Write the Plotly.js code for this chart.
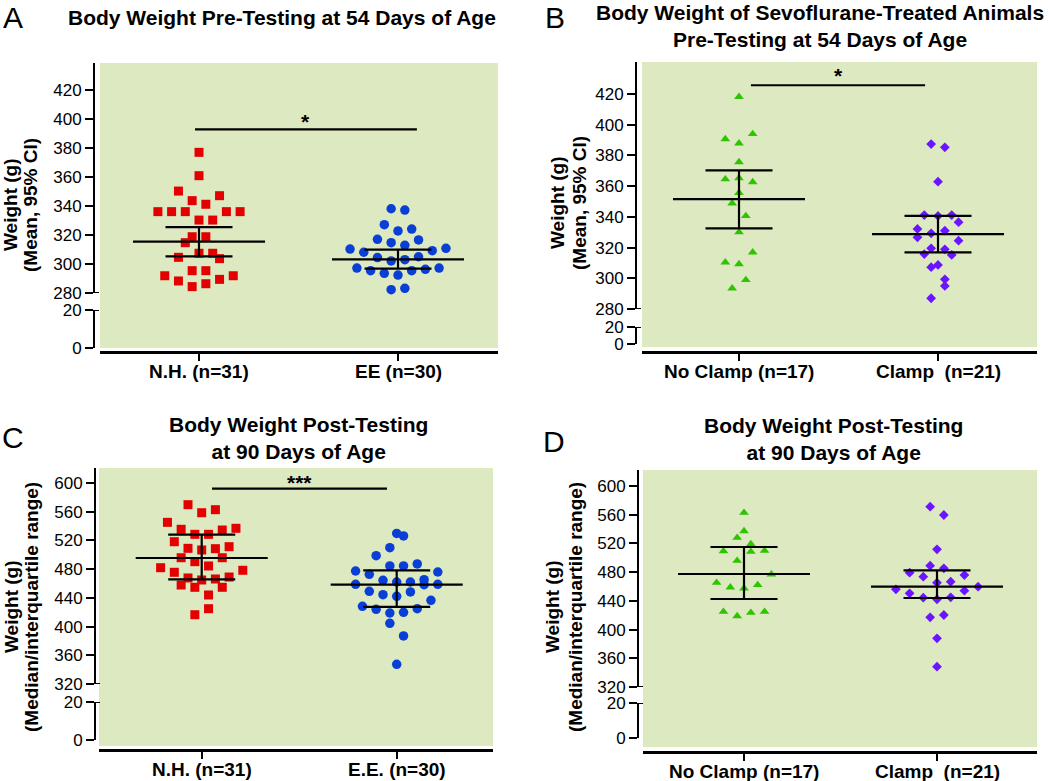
<!DOCTYPE html>
<html>
<head>
<meta charset="utf-8">
<script src="https://cdn.plot.ly/plotly-3.0.1.min.js"></script>
<style>html,body{margin:0;padding:0;background:#fff;}#chart{width:1050px;height:781px;}</style>
</head>
<body>
<div id="chart"></div>
<script>
// ---------------- DATA ----------------
// Panel A: body weight pre-testing at 54 days (mean, 95% CI)
const catsA = ['N.H. (n=31)', 'EE (n=30)'];
const nhA_weight = [377.0, 360.9, 350.3, 347.1, 343.7, 341.2, 336.1, 336.1, 336.1, 336.1, 336.1, 330.3, 330.3, 318.8, 318.8, 314.7, 307.4, 307.4, 304.6, 303.7, 295.4, 295.4, 291.9, 291.9, 288.3, 289.4, 284.4, 286.4];
const nhA_column = [0, 0, -3, 3, -1, 1, -6, -4, -2, 4, 6, 0, 2, -1, 1, -2, 0, 2, -3, 3, -1, 1, -5, 5, -3, 3, -1, 1];
const eeA_weight = [338.1, 337.2, 327.1, 322.8, 324.1, 317.0, 314.7, 316.6, 312.9, 310.3, 308.1, 309.2, 310.8, 304.4, 302.1, 303.0, 305.0, 297.2, 295.4, 293.6, 292.4, 295.4, 296.3, 297.2, 282.3, 283.2];
const eeA_column = [-1, 1, -2, 0, 2, -3, -1, 3, 1, -7, -5, 5, 7, -3, -1, 1, 3, -6, -4, -2, 0, 2, 4, 6, -1, 1];
const centerA = [315.4, 303.2];
const lowA = [305.3, 296.8];
const highA = [325.5, 309.9];
const sigA = {from: -0.02, to: 1.095, y: 392.9, label: '*'};

// Panel B: sevoflurane-treated animals pre-testing (mean, 95% CI)
const catsB = ['No Clamp (n=17)', 'Clamp  (n=21)'];
const ncB_weight = [418.2, 390.7, 394.0, 387.9, 375.7, 364.5, 365.3, 362.7, 355.7, 348.8, 340.6, 330.0, 316.9, 310.4, 309.3, 298.9, 293.5];
const ncB_column = [0, -2, 2, 0, 0, -2, 0, 2, 0, -1, 1, 0, 2, -2, 0, 1, -1];
const clB_weight = [387.4, 385.3, 362.9, 341.2, 340.6, 341.2, 332.1, 336.5, 329.3, 331.0, 326.7, 324.5, 319.5, 318.9, 315.8, 315.2, 307.2, 308.7, 299.3, 295.0, 287.0];
const clB_column = [-1, 1, 0, -2, 0, 2, -3, 3, -1, 1, -3, 3, -1, 1, -2, 2, -1, 0, 1, 1, -1];
const centerB = [351.6, 328.8];
const lowB = [332.5, 316.9];
const highB = [370.3, 340.6];
const sigB = {from: 0.06, to: 0.935, y: 425.7, label: '*'};

// Panel C: body weight post-testing at 90 days (median, IQR)
const catsC = ['N.H. (n=31)', 'E.E. (n=30)'];
const nhC_weight = [569.8, 558.6, 562.8, 545.2, 535.5, 534.5, 536.9, 528.5, 528.5, 518.2, 509.0, 506.7, 508.5, 511.3, 495.9, 495.9, 490.4, 484.4, 482.0, 475.6, 478.4, 467.7, 464.9, 466.3, 469.0, 457.9, 454.7, 454.7, 444.0, 424.9, 416.5];
const nhC_column = [-2, 0, 2, -5, -3, 3, 5, -1, 1, -4, -2, 0, 2, 4, -3, 3, -1, 1, -6, -4, 6, -2, 0, 2, 4, -3, -1, 3, 1, 1, -1];
const eeC_weight = [529.8, 526.2, 509.9, 498.7, 484.4, 484.4, 487.2, 477.4, 472.8, 476.0, 464.4, 462.1, 462.1, 465.3, 458.9, 458.3, 458.9, 449.1, 444.4, 448.2, 442.2, 436.6, 428.2, 424.1, 418.9, 419.9, 424.9, 404.6, 386.9, 347.4];
const eeC_column = [0, 1, -1, -3, -1, 1, 3, -6, -4, 6, -2, 0, 2, 4, -6, 4, 6, -4, -2, 2, 0, 5, -5, -3, -1, 1, 3, -1, 1, 0];
const centerC = [495.5, 458.3];
const lowC = [465.8, 427.3];
const highC = [528.0, 478.4];
const sigC = {from: 0.053, to: 0.95, y: 592.1, label: '***'};

// Panel D: sevoflurane-treated animals post-testing (median, IQR)
const catsD = ['No Clamp (n=17)', 'Clamp  (n=21)'];
const ncD_weight = [562.8, 537.3, 528.0, 519.2, 509.4, 508.5, 509.9, 495.9, 477.0, 465.3, 458.9, 457.5, 462.1, 424.9, 418.9, 423.5, 424.9];
const ncD_column = [0, 0, -1, 1, -3, 1, 3, -1, 4, -4, -2, 0, 2, -3, -1, 1, 3];
const clD_weight = [571.2, 559.6, 511.8, 489.0, 485.3, 479.2, 473.6, 476.0, 465.3, 466.7, 456.1, 459.7, 450.5, 454.2, 444.4, 442.2, 444.9, 417.1, 420.3, 387.8, 348.3];
const clD_column = [-1, 1, 0, -1, 1, -4, -2, 4, 0, 2, -6, 6, -4, 4, -2, 0, 2, -1, 1, 0, 0];
const centerD = [477.4, 459.7];
const lowD = [442.6, 444.0];
const highD = [515.0, 482.5];

const ticksUpper54 = [280, 300, 320, 340, 360, 380, 400, 420];
const ticksUpper90 = [320, 360, 400, 440, 480, 520, 560, 600];
const ticksLower = [0, 20];

const titleA = 'Body Weight Pre-Testing at 54 Days of Age';
const titleB = 'Body Weight of Sevoflurane-Treated Animals<br>Pre-Testing at 54 Days of Age';
const titleC = 'Body Weight Post-Testing<br>at 90 Days of Age';
const titleD = 'Body Weight Post-Testing<br>at 90 Days of Age';
const yTitle1 = 'Weight (g)';
const yTitle2AB = '(Mean, 95% CI)';
const yTitle2CD = '(Median/interquartile range)';

// ---------------- LAYOUT / STYLE ----------------
const W = 1050, H = 781;
const FONT = 'Liberation Sans, Arial, Helvetica, sans-serif';
const GREEN_BG = '#dde9c0';
const STY = {
  red:    {symbol: 'square', size: 9, color: '#e30000'},
  blue:   {symbol: 'circle', size: 9.5, color: '#0a3fd6'},
  green:  {symbol: 'triangle-up', size: 8.5, color: '#2ec400'},
  purple: {symbol: 'diamond', size: 7.5, color: '#6a14ff'}
};
const fx = p => p / W;
const fy = p => 1 - p / H;

const panels = [
  {letter: 'A', title: titleA, cats: catsA,
   groups: [[nhA_weight, nhA_column, STY.red], [eeA_weight, eeA_column, STY.blue]],
   center: centerA, low: lowA, high: highA, sig: sigA, starShift: 8,
   ticksUp: ticksUpper54, ytitle2: yTitle2AB,
   g: [100, 498, 63, 348], axisX: 94, xAxisY: 352, catPx: [199, 398], catLabelY: 371,
   up: {v0: 280, p0: 293, v1: 420, p1: 90}, low0: 348, low20: 310,
   letterPos: [13, 17], titlePos: [282, 18], yt: [11, 31, 205]},
  {letter: 'B', title: titleB, cats: catsB,
   groups: [[ncB_weight, ncB_column, STY.green], [clB_weight, clB_column, STY.purple]],
   center: centerB, low: lowB, high: highB, sig: sigB, starShift: 10,
   ticksUp: ticksUpper54, ytitle2: yTitle2AB,
   g: [642, 1037, 62, 347], axisX: 636, xAxisY: 352, catPx: [739, 938], catLabelY: 371,
   up: {v0: 280, p0: 309, v1: 420, p1: 94}, low0: 344, low20: 327,
   letterPos: [555, 18], titlePos: [820, 26], yt: [557, 579, 203]},
  {letter: 'C', title: titleC, cats: catsC,
   groups: [[nhC_weight, nhC_column, STY.red], [eeC_weight, eeC_column, STY.blue]],
   center: centerC, low: lowC, high: highC, sig: sigC, starShift: 6,
   ticksUp: ticksUpper90, ytitle2: yTitle2CD,
   g: [99, 493, 468, 746], axisX: 95, xAxisY: 750, catPx: [201.7, 396.7], catLabelY: 769,
   up: {v0: 320, p0: 684, v1: 600, p1: 483}, low0: 740, low20: 702,
   letterPos: [13, 437], titlePos: [298, 438], yt: [11, 31, 607]},
  {letter: 'D', title: titleD, cats: catsD,
   groups: [[ncD_weight, ncD_column, STY.green], [clD_weight, clD_column, STY.purple]],
   center: centerD, low: lowD, high: highD, sig: null, starShift: 0,
   ticksUp: ticksUpper90, ytitle2: yTitle2CD,
   g: [643, 1037, 470, 747], axisX: 638, xAxisY: 752, catPx: [744, 937], catLabelY: 771,
   up: {v0: 320, p0: 687, v1: 600, p1: 486}, low0: 738, low20: 703,
   letterPos: [554, 441], titlePos: [833, 439], yt: [552, 575, 607]}
];

const data = [];
const layout = {
  width: W, height: H,
  margin: {l: 0, r: 0, t: 0, b: 0},
  paper_bgcolor: '#ffffff',
  plot_bgcolor: 'rgba(0,0,0,0)',
  showlegend: false,
  font: {family: FONT, color: '#000'},
  shapes: [], annotations: []
};

panels.forEach((P, i) => {
  const xn = i + 1, yu = 2 * i + 1, yl = 2 * i + 2;
  const xk = 'x' + (xn === 1 ? '' : xn), yuk = 'y' + (yu === 1 ? '' : yu), ylk = 'y' + yl;
  const unit = P.catPx[1] - P.catPx[0];
  const xr = [(P.g[0] - P.catPx[0]) / unit, (P.g[1] - P.catPx[0]) / unit];
  const vpp = (P.up.v1 - P.up.v0) / (P.up.p0 - P.up.p1);
  const topVal = P.up.v0 + (P.up.p0 - P.g[2]) * vpp;
  const slot = 6.85 / unit;
  const meanHalf = 66 / unit, capHalf = 33.5 / unit;

  // background
  layout.shapes.push({type: 'rect', xref: 'paper', yref: 'paper', layer: 'below',
    x0: fx(P.g[0]), x1: fx(P.g[1]), y0: fy(P.g[3]), y1: fy(P.g[2]),
    fillcolor: GREEN_BG, line: {width: 0}});

  layout['xaxis' + (xn === 1 ? '' : xn)] = {
    domain: [fx(P.g[0]), fx(P.g[1])], range: xr, anchor: 'free', position: fy(P.xAxisY),
    showline: true, linecolor: '#000', linewidth: 2.5, showgrid: false, zeroline: false,
    ticks: 'outside', ticklen: 7, tickwidth: 2, tickcolor: '#000',
    tickvals: [0, 1], showticklabels: false, fixedrange: true
  };
  P.cats.forEach((c, k) => {
    layout.annotations.push({xref: xk, yref: 'paper', x: k, y: fy(P.catLabelY),
      text: '<b>' + c + '</b>', showarrow: false, xanchor: 'center', yanchor: 'middle',
      font: {family: FONT, size: 19, color: '#000'}});
  });
  const yCommon = {
    anchor: 'free', position: fx(P.axisX), showline: true, linecolor: '#000', linewidth: 2,
    showgrid: false, zeroline: false, ticks: 'outside', ticklen: 8, tickwidth: 2, tickcolor: '#000',
    tickfont: {family: FONT, size: 17, color: '#000'}, fixedrange: true
  };
  layout['yaxis' + (yu === 1 ? '' : yu)] = Object.assign({}, yCommon, {
    domain: [fy(P.up.p0), fy(P.g[2])], range: [P.up.v0, topVal], tickvals: P.ticksUp
  });
  layout['yaxis' + yl] = Object.assign({}, yCommon, {
    domain: [fy(P.low0), fy(P.low20)], range: [0, 20], tickvals: ticksLower
  });

  // break ticks extending inward
  layout.shapes.push({type: 'line', xref: 'paper', yref: yuk, x0: fx(P.axisX - 8), x1: fx(P.axisX + 5),
    y0: P.up.v0, y1: P.up.v0, line: {color: '#000', width: 2}});
  layout.shapes.push({type: 'line', xref: 'paper', yref: ylk, x0: fx(P.axisX - 8), x1: fx(P.axisX + 5),
    y0: 20, y1: 20, line: {color: '#000', width: 2}});

  // points
  P.groups.forEach((G, k) => {
    const [vals, cols, st] = G;
    data.push({type: 'scatter', mode: 'markers', xaxis: xk, yaxis: yuk, hoverinfo: 'skip',
      x: cols.map(c => k + c * slot), y: vals,
      marker: {symbol: st.symbol, size: st.size, color: st.color, line: {width: 0}},
      cliponaxis: false});
  });
  data.push({type: 'scatter', mode: 'markers', xaxis: xk, yaxis: ylk, x: [null], y: [null], hoverinfo: 'skip'});

  // mean / median lines and error bars
  const ln = {color: '#000', width: 2.2};
  [0, 1].forEach(k => {
    layout.shapes.push({type: 'line', xref: xk, yref: yuk, x0: k - meanHalf, x1: k + meanHalf, y0: P.center[k], y1: P.center[k], line: ln});
    layout.shapes.push({type: 'line', xref: xk, yref: yuk, x0: k - capHalf, x1: k + capHalf, y0: P.high[k], y1: P.high[k], line: ln});
    layout.shapes.push({type: 'line', xref: xk, yref: yuk, x0: k - capHalf, x1: k + capHalf, y0: P.low[k], y1: P.low[k], line: ln});
    layout.shapes.push({type: 'line', xref: xk, yref: yuk, x0: k, x1: k, y0: P.low[k], y1: P.high[k], line: ln});
  });

  // significance
  if (P.sig) {
    layout.shapes.push({type: 'line', xref: xk, yref: yuk, x0: P.sig.from, x1: P.sig.to, y0: P.sig.y, y1: P.sig.y, line: ln});
    layout.annotations.push({xref: xk, yref: yuk, x: (P.sig.from + P.sig.to) / 2, y: P.sig.y,
      text: '<b>' + P.sig.label + '</b>', showarrow: false, xanchor: 'center', yanchor: 'middle', yshift: P.starShift,
      font: {family: FONT, size: 21, color: '#000'}});
  }

  // titles / letters / y titles
  layout.annotations.push({xref: 'paper', yref: 'paper', x: fx(P.titlePos[0]), y: fy(P.titlePos[1]),
    text: '<b>' + P.title + '</b>', showarrow: false, xanchor: 'center', yanchor: 'middle',
    font: {family: FONT, size: 21, color: '#000'}});
  layout.annotations.push({xref: 'paper', yref: 'paper', x: fx(P.letterPos[0]), y: fy(P.letterPos[1]),
    text: P.letter, showarrow: false, xanchor: 'center', yanchor: 'middle',
    font: {family: FONT, size: 30, color: '#000'}});
  layout.annotations.push({xref: 'paper', yref: 'paper', x: fx(P.yt[0]), y: fy(P.yt[2]),
    text: '<b>' + yTitle1 + '</b>', showarrow: false, textangle: -90, xanchor: 'center', yanchor: 'middle',
    font: {family: FONT, size: 19, color: '#000'}});
  layout.annotations.push({xref: 'paper', yref: 'paper', x: fx(P.yt[1]), y: fy(P.yt[2]),
    text: '<b>' + P.ytitle2 + '</b>', showarrow: false, textangle: -90, xanchor: 'center', yanchor: 'middle',
    font: {family: FONT, size: 19, color: '#000'}});
});

Plotly.newPlot('chart', data, layout, {staticPlot: true, displayModeBar: false});
</script>
</body>
</html>
